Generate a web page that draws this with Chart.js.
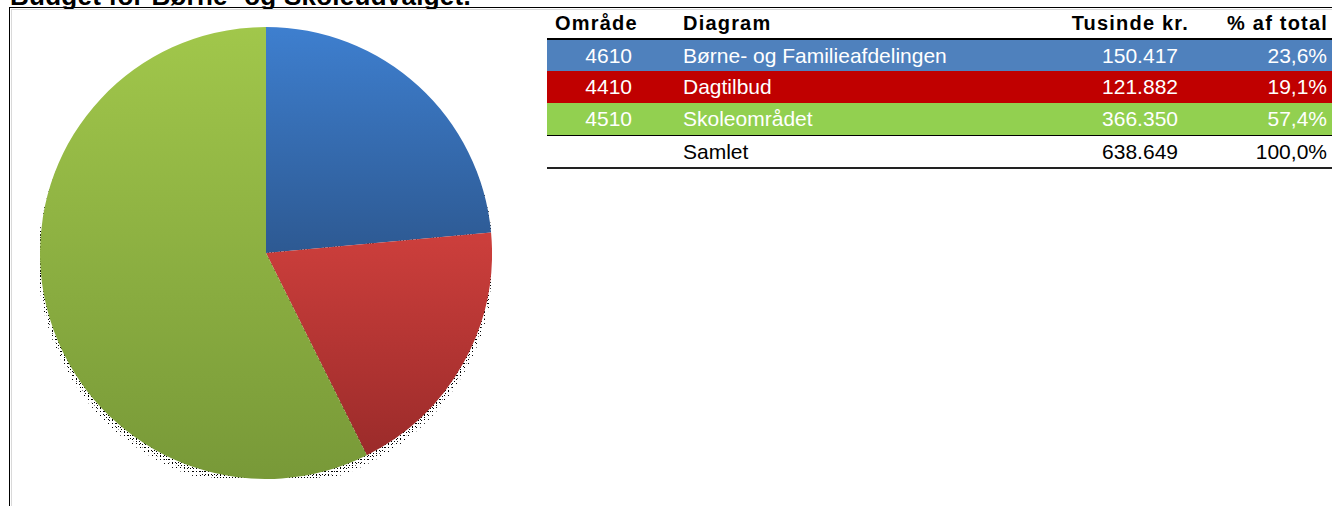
<!DOCTYPE html>
<html>
<head>
<meta charset="utf-8">
<script src="https://cdn.jsdelivr.net/npm/chart.js@4"></script>
<style>
    html, body { margin: 0; padding: 0; background: #fff; }
    body { width: 1332px; height: 506px; position: relative; overflow: hidden; font-family: "Liberation Sans", Arial, sans-serif; }
    #title { position: absolute; left: 10px; top: -17px; font-size: 26px; line-height: 26px; letter-spacing: 0.25px; font-weight: bold; color: #000; white-space: nowrap; }
    #frameTop { position: absolute; left: 9px; top: 7px; width: 1323px; height: 1px; background: #000; }
    #frameLeft { position: absolute; left: 9px; top: 7px; width: 1px; height: 499px; background: #000; }
    #innerTop { position: absolute; left: 11px; top: 9px; width: 1321px; height: 1px; background: #d9d9d9; }
    #innerLeft { position: absolute; left: 11px; top: 9px; width: 1px; height: 497px; background: #d9d9d9; }
    #pieBox { position: absolute; left: 40px; top: 27px; width: 452px; height: 452px; }
    #budgetTable { position: absolute; left: 547px; top: 8px; border-collapse: collapse; table-layout: fixed; width: 785px; font-size: 21px; }
    #budgetTable td, #budgetTable th { padding: 0; white-space: nowrap; overflow: hidden; }
    #budgetTable th { font-size: 20px; letter-spacing: 1.2px; font-weight: bold; height: 30px; line-height: 30px; border-bottom: 2px solid #000; }
    #budgetTable td { height: 32px; line-height: 32px; color: #fff; }
    #budgetTable tr.first td { height: 31px; line-height: 31px; }
    #budgetTable tr.sum td { color: #000; border-top: 1px solid #000; border-bottom: 2px solid #222; height: 31px; line-height: 31px; }
    #budgetTable th.c1h { text-align: left; padding-left: 8px; }
    #budgetTable .c1 { text-align: right; padding-right: 43px; }
    #budgetTable .c2 { text-align: left; padding-left: 8px; }
    #budgetTable th.c3h { text-align: right; padding-right: 11px; }
    #budgetTable .c3 { text-align: right; padding-right: 22px; }
    #budgetTable .c4 { text-align: right; padding-right: 5px; }
    #budgetTable th.c4 { padding-right: 4px; }
</style>
</head>
<body>
<div id="title">Budget for Børne- og Skoleudvalget.</div>
<div id="frameTop"></div>
<div id="frameLeft"></div>
<div id="innerTop"></div>
<div id="innerLeft"></div>
<div id="pieBox"><canvas id="budgetPie"></canvas></div>
<table id="budgetTable">
    <colgroup><col style="width:128px"><col style="width:335px"><col style="width:190px"><col style="width:132px"></colgroup>
    <thead><tr><th class="c1h">Område</th><th class="c2">Diagram</th><th class="c3h">Tusinde kr.</th><th class="c4">% af total</th></tr></thead>
    <tbody id="budgetRows"></tbody>
</table>
<script>
const omraadeNumre = ['4610', '4410', '4510'];
const omraadeNavne = ['Børne- og Familieafdelingen', 'Dagtilbud', 'Skoleområdet'];
const budgetValues = [150417, 121882, 366350];
const budgetLabels = ['150.417', '121.882', '366.350'];
const percentLabels = ['23,6%', '19,1%', '57,4%'];
const totalLabel = 'Samlet';
const totalValue = '638.649';
const totalPercent = '100,0%';

const rowColors = ['#4f81bd', '#c00000', '#92d050'];
// top / bottom colours of the gradient in each slice
const sliceGradients = [
    ['#3e7fcf', '#2d5992'],
    ['#cd3f3c', '#9b2b2a'],
    ['#a1c74b', '#789938']
];

function buildTable() {
    const tbody = document.getElementById('budgetRows');
    let html = '';
    omraadeNumre.forEach((nr, i) => {
        const cls = i === 0 ? ' class="first"' : '';
        html += `<tr${cls} style="background:${rowColors[i]}"><td class="c1">${nr}</td><td class="c2">${omraadeNavne[i]}</td><td class="c3">${budgetLabels[i]}</td><td class="c4">${percentLabels[i]}</td></tr>`;
    });
    html += `<tr class="sum"><td class="c1"></td><td class="c2">${totalLabel}</td><td class="c3">${totalValue}</td><td class="c4">${totalPercent}</td></tr>`;
    tbody.innerHTML = html;
}

// vertical extent of one pie slice, so every slice gets its own gradient
function sliceYRange(arc) {
    const { x, y, startAngle, endAngle, outerRadius } = arc;
    let ys = [y, y + outerRadius * Math.sin(startAngle), y + outerRadius * Math.sin(endAngle)];
    const inRange = (a) => {
        for (let k = -2; k <= 2; k++) {
            const t = a + k * 2 * Math.PI;
            if (t >= startAngle && t <= endAngle) return true;
        }
        return false;
    };
    if (inRange(-Math.PI / 2)) ys.push(y - outerRadius);
    if (inRange(Math.PI / 2)) ys.push(y + outerRadius);
    return [Math.min(...ys), Math.max(...ys)];
}

function dotPattern(ctx, step) {
    const p = document.createElement('canvas');
    p.width = step; p.height = step;
    const pc = p.getContext('2d');
    pc.fillStyle = '#000';
    pc.fillRect(0, 0, 1, 1);
    return ctx.createPattern(p, 'repeat');
}

const pieShading = {
    id: 'pieShading',
    beforeDatasetsDraw(chart) {
        const ctx = chart.ctx;
        const meta = chart.getDatasetMeta(0);
        if (!meta.data.length) return;
        const arc = meta.data[0];
        const r = arc.outerRadius;
        // dithered drop shadow
        ctx.save();
        ctx.fillStyle = dotPattern(ctx, 4);
        ctx.beginPath();
        ctx.arc(arc.x, arc.y + 7, r + 2, 0, Math.PI * 2);
        ctx.fill();
        ctx.fillStyle = dotPattern(ctx, 3);
        ctx.beginPath();
        ctx.arc(arc.x, arc.y + 4, r + 1, 0, Math.PI * 2);
        ctx.fill();
        ctx.restore();
        meta.data.forEach((el, i) => {
            const [y0, y1] = sliceYRange(el);
            const g = ctx.createLinearGradient(0, y0, 0, y1);
            g.addColorStop(0, sliceGradients[i][0]);
            g.addColorStop(1, sliceGradients[i][1]);
            el.options.backgroundColor = g;
        });
    }
};

function loadBudgetPie() {
    const budgetPieCtx = document.getElementById('budgetPie').getContext('2d');
    new Chart(budgetPieCtx, {
        type: 'pie',
        data: {
            labels: omraadeNavne,
            datasets: [{
                data: budgetValues,
                backgroundColor: rowColors,
                borderWidth: 0
            }]
        },
        options: {
            responsive: true,
            maintainAspectRatio: false,
            animation: false,
            layout: { padding: 0 },
            plugins: {
                legend: { display: false },
                tooltip: { enabled: false }
            }
        },
        plugins: [pieShading]
    });
}

buildTable();
loadBudgetPie();
</script>
</body>
</html>
